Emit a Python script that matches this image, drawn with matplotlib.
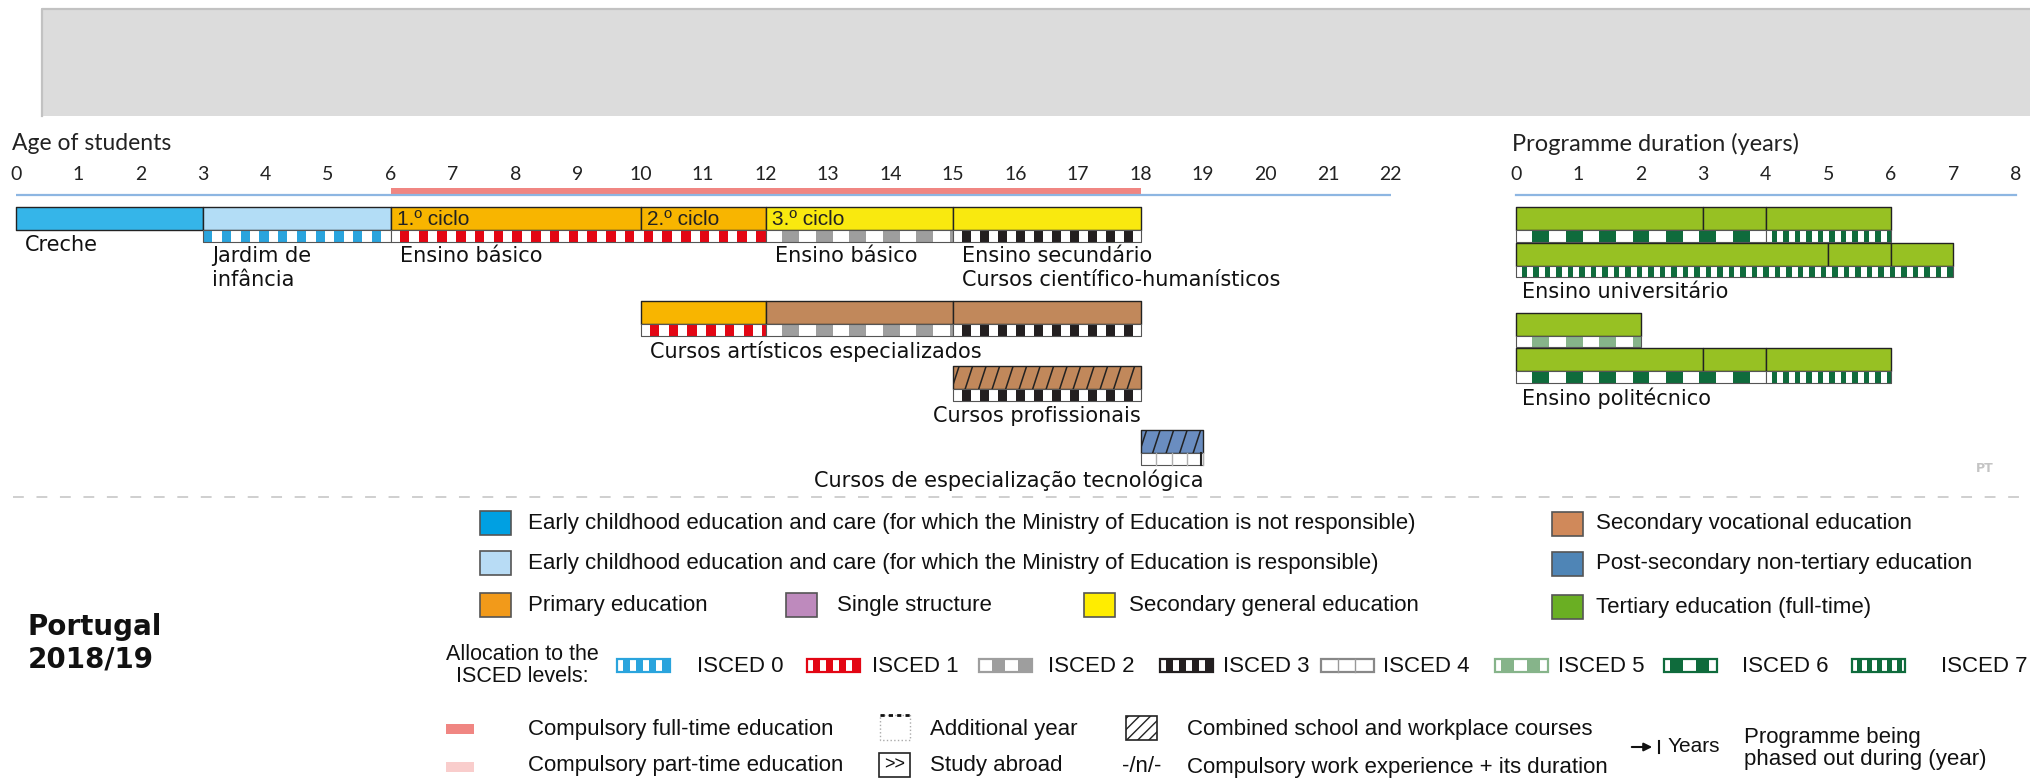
import matplotlib
matplotlib.use('Agg')
import matplotlib.pyplot as plt
from matplotlib.patches import Rectangle

plt.rcParams['font.family'] = ['DejaVu Sans']

# ------------------------------------------------------------------ data
age_ticks = list(range(0, 23))
duration_ticks = list(range(0, 9))
compulsory_start, compulsory_end = 6, 18

# age panel: programme segments
age_seg_row = [0, 0, 0, 0, 0, 0, 1, 1, 1, 2, 3]
age_seg_start = [0, 3, 6, 10, 12, 15, 10, 12, 15, 15, 18]
age_seg_end = [3, 6, 10, 12, 15, 18, 12, 15, 18, 18, 19]
age_seg_type = ['ecec_nr', 'ecec_r', 'primary', 'primary', 'secgen', 'secgen',
                'primary', 'secvoc', 'secvoc', 'secvoc', 'postsec']
age_seg_combined = [False, False, False, False, False, False, False, False, False, True, True]
age_seg_inner = ['', '', '1.º ciclo', '2.º ciclo', '3.º ciclo', '', '', '', '', '', '']

# age panel: ISCED allocation
age_isced_row = [0, 0, 0, 0, 1, 1, 1, 2, 3]
age_isced_start = [3, 6, 12, 15, 10, 12, 15, 15, 18]
age_isced_end = [6, 12, 15, 18, 12, 15, 18, 18, 19]
age_isced_level = [0, 1, 2, 3, 1, 2, 3, 3, 4]

# age panel: programme names
age_label_text = ['Creche', 'Jardim de\ninfância', 'Ensino básico', 'Ensino básico',
                  'Ensino secundário\nCursos científico-humanísticos',
                  'Cursos artísticos especializados', 'Cursos profissionais',
                  'Cursos de especialização tecnológica']
age_label_row = [0, 0, 0, 0, 0, 1, 2, 3]
age_label_at = [0, 3, 6, 12, 15, 10, 18, 19]
age_label_side = ['left', 'left', 'left', 'left', 'left', 'left', 'right', 'right']
age_label_stripe = [False, True, True, True, True, True, True, True]

# duration panel (tertiary)
dur_seg_row = [0, 0, 0, 1, 1, 1, 2, 3, 3, 3]
dur_seg_start = [0, 3, 4, 0, 5, 6, 0, 0, 3, 4]
dur_seg_end = [3, 4, 6, 5, 6, 7, 2, 3, 4, 6]
dur_isced_row = [0, 0, 1, 2, 3, 3]
dur_isced_start = [0, 4, 0, 0, 0, 4]
dur_isced_end = [4, 6, 7, 2, 4, 6]
dur_isced_level = [6, 7, 7, 5, 6, 7]
dur_label_text = ['Ensino universitário', 'Ensino politécnico']
dur_label_row = [1, 3]

# legend
legend_cat_labels = [
    'Early childhood education and care (for which the Ministry of Education is not responsible)',
    'Early childhood education and care (for which the Ministry of Education is responsible)',
    'Primary education', 'Single structure', 'Secondary general education',
    'Secondary vocational education', 'Post-secondary non-tertiary education',
    'Tertiary education (full-time)']
isced_labels = ['ISCED 0', 'ISCED 1', 'ISCED 2', 'ISCED 3', 'ISCED 4', 'ISCED 5', 'ISCED 6', 'ISCED 7']

# ------------------------------------------------------------------ styles
BAR_COL = {'ecec_nr': '#35b5e9', 'ecec_r': '#b3ddf6', 'primary': '#f8b500',
           'secgen': '#f9e90f', 'secvoc': '#c1885b', 'postsec': '#6a8dc0',
           'tertiary': '#97c123'}
LEG_COL = ['#00a0e2', '#b8dcf5', '#f29a1a', '#be8abd', '#ffed00', '#d0895a', '#4f85b6', '#6aaf23']
# colour, period (px), colour first
ISCED = {0: ('#2aa4dd', 18.75, True), 1: ('#e30614', 18.75, False),
         2: ('#9e9e9e', 33.5, False), 3: ('#231f20', 18.0, False),
         4: ('#ffffff', 15.5, False), 5: ('#86b48a', 33.4, False),
         6: ('#0f6b3c', 33.4, False), 7: ('#0f6b3c', 11.5, False)}

PX_PER_YEAR = 62.5
AGE0_PX = 15.6
DUR0_PX = 1515.8
W, H = 2030, 782

LEG_FONT = ['Liberation Sans', 'DejaVu Sans']
TICK_FONT = ['Lato', 'DejaVu Sans']
NARROW_FONT = ['Liberation Sans Narrow', 'Liberation Sans', 'DejaVu Sans']
LEG_FS = 16
LAB_FS = 15

age_row_top = [207, 301, 366, 430]
dur_row_top = [207, 242.5, 312.5, 348]
BAR_H = 23
STRIPE_H = 11.5
LABEL_GAP = 5

fig = plt.figure(figsize=(W / 100, H / 100), dpi=100)


def full_axes(x0px):
    ax = fig.add_axes([0, 0, 1, 1])
    ax.set_xlim(-x0px / PX_PER_YEAR, (W - x0px) / PX_PER_YEAR)
    ax.set_ylim(H, 0)
    ax.axis('off')
    ax.patch.set_alpha(0)
    return ax


ax_leg = fig.add_axes([0, 0, 1, 1])
ax_leg.set_xlim(0, W)
ax_leg.set_ylim(H, 0)
ax_leg.axis('off')
ax_age = full_axes(AGE0_PX)
ax_dur = full_axes(DUR0_PX)


def stripe(ax, x0, x1, ytop, h, level, per_unit):
    col, period_px, first = ISCED[level]
    period = period_px / per_unit
    ax.broken_barh([(x0, x1 - x0)], (ytop, h), facecolors='white', edgecolors='none')
    if level == 4:
        t = x0 + period
        while t < x1 - 1e-6:
            ax.plot([t, t], [ytop, ytop + h], color='#b0b0b0', lw=1)
            t += period
        ax.plot([x1 - period * 0.12] * 2, [ytop, ytop + h], color='#222222', lw=1.5)
    else:
        blocks = []
        t = x0 if first else x0 + period / 2
        while t < x1 - 1e-6:
            blocks.append((t, min(period / 2, x1 - t)))
            t += period
        ax.broken_barh(blocks, (ytop, h), facecolors=col, edgecolors='none')
    ax.broken_barh([(x0, x1 - x0)], (ytop, h), facecolors='none', edgecolors='#555555', linewidth=0.8)


def workplace_hatch(ax, bars, s, e, ytop, h):
    """steep diagonal lines clipped to the bar (combined school/workplace marker)"""
    step = 13.5 / PX_PER_YEAR
    lean = 7.5 / PX_PER_YEAR
    x = s - lean + step * 0.45
    while x < e:
        ln, = ax.plot([x, x + lean], [ytop + h, ytop], color='#222222', lw=1.1)
        ln.set_clip_path(bars.get_paths()[0], bars.get_transform())
        x += step


# ------------------------------------------------------------------ header box
ax_leg.add_patch(Rectangle((41, 8), W - 41, 108, facecolor='#dcdcdc', edgecolor='none'))
ax_leg.plot([42, 42, W], [116, 9, 9], color='#c2c2c2', lw=1.6)

# ------------------------------------------------------------------ age panel
ax_age.text(-0.05, 144, 'Age of students', fontsize=16.5, family=TICK_FONT, va='center', ha='left', color='#222')
for a in age_ticks:
    ax_age.text(a, 175, str(a), fontsize=14, family=TICK_FONT, ha='center', va='center', color='#222')
ax_age.plot([age_ticks[0], age_ticks[-1]], [195, 195], color='#8db6e2', lw=1.6, solid_capstyle='butt')
ax_age.broken_barh([(compulsory_start, compulsory_end - compulsory_start)], (188, 8),
                   facecolors='#f08682', edgecolors='none')

for r, s, e, t, comb, inner in zip(age_seg_row, age_seg_start, age_seg_end, age_seg_type,
                                   age_seg_combined, age_seg_inner):
    y = age_row_top[r]
    bars = ax_age.broken_barh([(s, e - s)], (y, BAR_H), facecolors=BAR_COL[t], edgecolors='none')
    if comb:
        workplace_hatch(ax_age, bars, s, e, y, BAR_H)
    ax_age.broken_barh([(s, e - s)], (y, BAR_H), facecolors='none', edgecolors='#222222', linewidth=1.0)
    if inner:
        ax_age.text(s + 6 / PX_PER_YEAR, y + BAR_H / 2 + 1, inner, fontsize=15, family=NARROW_FONT,
                    ha='left', va='center', color='#222')

for r, s, e, lv in zip(age_isced_row, age_isced_start, age_isced_end, age_isced_level):
    stripe(ax_age, s, e, age_row_top[r] + BAR_H, STRIPE_H, lv, PX_PER_YEAR)

for txt, r, at, side, st in zip(age_label_text, age_label_row, age_label_at, age_label_side, age_label_stripe):
    ytop = age_row_top[r] + BAR_H + (STRIPE_H if st else 0) + LABEL_GAP
    x = at + (9 / PX_PER_YEAR if side == 'left' else 0)
    ax_age.text(x, ytop, txt, fontsize=LAB_FS, ha=side, va='top', color='#111', linespacing=1.2)

# ------------------------------------------------------------------ duration panel
ax_dur.text(-0.06, 144, 'Programme duration (years)', fontsize=17, family=TICK_FONT, va='center',
            ha='left', color='#222')
for d in duration_ticks:
    ax_dur.text(d, 175, str(d), fontsize=14, family=TICK_FONT, ha='center', va='center', color='#222')
ax_dur.plot([duration_ticks[0], duration_ticks[-1]], [195, 195], color='#8db6e2', lw=1.6)

for r, s, e in zip(dur_seg_row, dur_seg_start, dur_seg_end):
    ax_dur.broken_barh([(s, e - s)], (dur_row_top[r], BAR_H), facecolors=BAR_COL['tertiary'],
                       edgecolors='#222222', linewidth=1.0)
for r, s, e, lv in zip(dur_isced_row, dur_isced_start, dur_isced_end, dur_isced_level):
    stripe(ax_dur, s, e, dur_row_top[r] + BAR_H, STRIPE_H, lv, PX_PER_YEAR)
for txt, r in zip(dur_label_text, dur_label_row):
    ax_dur.text(0.1, dur_row_top[r] + BAR_H + STRIPE_H + LABEL_GAP, txt, fontsize=LAB_FS, ha='left',
                va='top', color='#111')

ax_leg.text(1994, 469, 'PT', fontsize=9, fontweight='bold', color='#c4c4c4', ha='right', va='center')

# ------------------------------------------------------------------ legend
ax_leg.plot([13, W], [497, 497], color='#cccccc', lw=1.3, dashes=(6, 7))

leg_pos = [(480, 523, 528), (480, 563, 528), (480, 605, 528), (786, 605, 837), (1084, 605, 1129),
           (1552, 524, 1596), (1552, 564, 1596), (1552, 607, 1596)]
for (x, y, tx), lab, col in zip(leg_pos, legend_cat_labels, LEG_COL):
    ax_leg.add_patch(Rectangle((x, y - 12), 31, 24, facecolor=col, edgecolor='#555555', lw=1.2))
    ax_leg.text(tx, y, lab, fontsize=LEG_FS, family=LEG_FONT, va='center', ha='left', color='#111')

ax_leg.text(28, 627, 'Portugal', fontsize=20, fontweight='bold', va='center', ha='left', color='#111')
ax_leg.text(28, 659, '2018/19', fontsize=20, fontweight='bold', va='center', ha='left', color='#111')

ax_leg.text(522, 654, 'Allocation to the', fontsize=15.5, family=LEG_FONT, va='center', ha='center', color='#111')
ax_leg.text(522, 677, 'ISCED levels:', fontsize=15.5, family=LEG_FONT, va='center', ha='center', color='#111')
isced_sw_x = [617, 807, 979, 1160, 1321, 1495, 1664, 1852]
isced_lab_x = [697, 872, 1048, 1223, 1383, 1558, 1742, 1941]
for lv, (sx, lx, lab) in enumerate(zip(isced_sw_x, isced_lab_x, isced_labels)):
    col, per, first = ISCED[lv]
    swp = {0: 13, 1: 13, 2: 26, 3: 13, 4: 17, 5: 26, 6: 26, 7: 10}[lv]
    ax_leg.add_patch(Rectangle((sx, 659), 53, 13, facecolor='white', edgecolor='none'))
    if lv == 4:
        for k in range(1, 3):
            ax_leg.plot([sx + k * swp] * 2, [659, 672], color='#999999', lw=1)
    else:
        t = sx + (swp / 4 if lv in (5, 6) else swp / 2)
        while t < sx + 52:
            ax_leg.add_patch(Rectangle((t, 659), min(swp / 2, sx + 53 - t), 13, facecolor=col, edgecolor='none'))
            t += swp
    ax_leg.add_patch(Rectangle((sx, 659), 53, 13, facecolor='none',
                               edgecolor=(col if lv != 4 else '#888888'), lw=1.6))
    ax_leg.text(lx, 666, lab, fontsize=LEG_FS, family=LEG_FONT, va='center', ha='left', color='#111')

# bottom legend rows
ax_leg.add_patch(Rectangle((446, 724), 28, 10, facecolor='#f08682', edgecolor='none'))
ax_leg.text(528, 729, 'Compulsory full-time education', fontsize=LEG_FS, family=LEG_FONT, va='center', color='#111')
ax_leg.add_patch(Rectangle((446, 762), 28, 10, facecolor='#f9cdcc', edgecolor='none'))
ax_leg.text(528, 766, 'Compulsory part-time education', fontsize=LEG_FS, family=LEG_FONT, va='center', color='#111')

ax_leg.add_patch(Rectangle((880, 715), 30, 25, facecolor='none', edgecolor='#aaaaaa', lw=1, linestyle=':'))
ax_leg.plot([880, 910], [715, 715], color='#111111', lw=2, linestyle=(0, (1.5, 1.5)))
ax_leg.text(930, 729, 'Additional year', fontsize=LEG_FS, family=LEG_FONT, va='center', color='#111')
ax_leg.add_patch(Rectangle((879, 753), 31, 24, facecolor='white', edgecolor='#222222', lw=1.2))
ax_leg.text(894.5, 765, '>>', fontsize=13, family=LEG_FONT, va='center', ha='center', color='#111')
ax_leg.text(930, 766, 'Study abroad', fontsize=LEG_FS, family=LEG_FONT, va='center', color='#111')

ax_leg.add_patch(Rectangle((1126, 716), 31, 24, facecolor='white', edgecolor='#222222', lw=1.2, hatch='///'))
ax_leg.text(1187, 729, 'Combined school and workplace courses', fontsize=LEG_FS, family=LEG_FONT,
            va='center', color='#111')
ax_leg.text(1122, 767, '-/n/-', fontsize=LEG_FS, family=LEG_FONT, va='center', color='#111')
ax_leg.text(1187, 767, 'Compulsory work experience + its duration', fontsize=LEG_FS, family=LEG_FONT,
            va='center', color='#111')

ax_leg.annotate('', xy=(1655, 747), xytext=(1629, 747),
                arrowprops=dict(arrowstyle='-|>', color='#111', lw=1.5, mutation_scale=12))
ax_leg.plot([1659, 1659], [741, 753], color='#111', lw=1.5)
ax_leg.text(1668, 747, 'Years', fontsize=15, family=LEG_FONT, va='center', color='#111')
ax_leg.text(1744, 737, 'Programme being', fontsize=LEG_FS, family=LEG_FONT, va='center', color='#111')
ax_leg.text(1744, 760, 'phased out during (year)', fontsize=LEG_FS, family=LEG_FONT, va='center', color='#111')

fig.savefig('out.png', dpi=100)
